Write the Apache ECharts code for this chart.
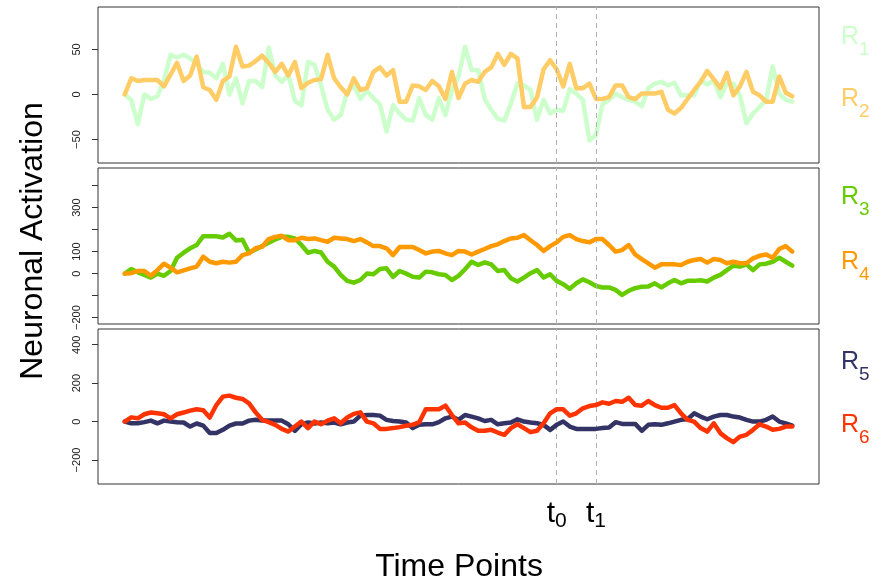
<!DOCTYPE html>
<html><head><meta charset="utf-8">
<script src="https://cdn.jsdelivr.net/npm/echarts@6/dist/echarts.min.js"></script>
<style>html,body{margin:0;padding:0;background:#fff}#c{width:883px;height:586px}</style>
</head><body><div id="c"></div>
<script>
// ---- data ----
const R1 = [0,-6,-33,0,-5,-2,16,44,41,44,40,34,25,24,18,34,0,18,-10,15,15,8,52,21,14,22,-7,-12,36,33,10,-17,-28,-23,3,10,-5,4,-4,-11,-41,-12,-21,-28,-29,-4,-23,-28,-4,-23,5,20,53,27,27,-5,-17,-27,-29,-10,12,10,5,-28,-6,-21,-17,-18,6,1,-6,-51,-45,-11,-6,1,-3,-6,-8,-13,7,12,14,10,13,-1,-1,-1,16,11,16,-3,12,12,-1,-32,-21,-14,-6,31,1,-6,-8];
const R2 = [0,18,15,16,16,16,9,22,35,15,21,42,8,5,-6,15,20,53,31,32,37,43,35,25,34,21,36,7,13,16,17,44,18,8,0,18,5,7,25,30,21,27,-8,-8,10,9,5,15,9,-5,25,-4,12,16,14,25,30,45,33,45,40,-14,-14,-3,28,38,28,9,34,7,7,12,-5,-5,-3,10,10,-3,-5,1,1,1,3,-17,-21,-15,-5,5,14,26,17,7,24,-1,9,25,3,-1,-8,-8,20,2,-2];
const R3 = [0,21,6,-6,-18,0,-10,12,72,95,115,130,170,170,170,164,181,151,154,96,110,125,140,155,167,167,160,130,95,103,96,54,32,-6,-33,-41,-29,0,-3,21,24,-15,12,0,-14,-18,9,6,-3,-6,-29,-10,20,54,39,51,42,12,16,-21,-36,-18,2,16,-18,-3,-33,-48,-69,-44,-26,-39,-56,-63,-63,-74,-97,-78,-66,-60,-59,-44,-63,-44,-29,-44,-33,-33,-30,-36,-18,-6,16,36,32,42,16,42,45,54,72,54,36];
const R4 = [0,2,12,12,-10,16,45,27,6,15,24,32,77,54,47,54,50,54,84,92,115,122,157,167,172,152,152,163,157,160,152,145,163,160,157,148,157,142,125,125,115,84,121,121,121,107,92,100,103,92,84,103,100,87,100,112,125,133,148,160,163,175,152,130,103,125,142,167,175,157,148,142,157,157,130,100,107,130,87,66,47,27,42,42,42,39,54,62,66,50,66,62,47,54,47,47,69,81,87,72,112,125,100];
const R5 = [0,-9,-9,-3,5,-9,5,0,-3,-5,-26,-10,-21,-60,-60,-43,-21,-10,-10,5,9,5,5,5,5,-14,-48,-14,-5,-10,-5,-9,-5,-14,-5,0,31,34,34,31,9,3,0,-5,-34,-17,-14,-14,-3,17,26,9,34,26,17,3,9,-14,-9,-5,12,0,-5,-9,-17,-43,-17,0,-26,-38,-38,-38,-38,-34,-31,-3,-12,-12,-12,-48,-17,-14,-17,-9,0,9,12,43,26,12,26,34,34,26,21,9,0,0,9,26,0,-9,-21];
const R6 = [0,22,17,38,47,43,38,17,38,47,57,64,59,21,86,130,135,124,118,95,48,9,-3,-17,-38,-52,-26,0,-34,0,-14,5,17,-9,21,40,48,0,-9,-38,-38,-34,-29,-22,-17,-3,64,64,64,83,34,-9,-5,-30,-48,-48,-43,-57,-69,-34,-14,-34,-55,-48,-9,43,64,64,31,43,69,81,86,100,93,107,103,124,86,83,107,86,72,72,86,43,9,0,-34,-52,-9,-60,-86,-107,-78,-69,-43,-14,-26,-43,-38,-26,-26];
const seriesNames = ['R1','R2','R3','R4','R5','R6'];
const seriesSubs = ['1','2','3','4','5','6'];
const markerTimes = [66, 72];
const markerSubs = ['0', '1'];
const panel1Ticks = [-50, 0, 50];
const panel1Labels = [-50, 0, 50];
const panel2Ticks = [-200, -100, 0, 100, 200, 300, 400];
const panel2Labels = [-200, 0, 100, 300];
const panel3Ticks = [-200, 0, 200, 400];
const panel3Labels = [-200, 0, 200, 400];

// ---- styling ----
const FONT = 'Liberation Sans, Arial, Helvetica, sans-serif';
const COLORS = ['#ccffcc', '#ffcc66', '#66cc00', '#ff9900', '#333366', '#ff3300'];
const LW = 4.5;
const timePoints = R1.map((_, i) => i);
const pairs = arr => arr.map((v, i) => [timePoints[i], v]);

const grids = [
  {left: 98, width: 721, top: 7, height: 156},
  {left: 98, width: 721, top: 168, height: 156},
  {left: 98, width: 721, top: 329, height: 155}
].map(g => Object.assign(g, {show: true, borderColor: '#333', borderWidth: 1, backgroundColor: 'transparent', containLabel: false}));

const yRanges = [[-76, 97], [-229, 480], [-325, 482]];
const yTicks = [panel1Ticks, panel2Ticks, panel3Ticks];
const yLabels = [panel1Labels, panel2Labels, panel3Labels];
const minus = v => String(v).replace('-', '\u2212');

const xAxes = [0, 1, 2].map(i => ({
  gridIndex: i, type: 'value', min: -4.08, max: 106.08,
  axisLine: {show: false, onZero: false}, axisTick: {show: false}, splitLine: {show: false},
  axisLabel: i === 2 ? {
    show: true, customValues: markerTimes, margin: 15,
    formatter: v => '{t|t}{s|' + markerSubs[markerTimes.indexOf(v)] + '}',
    rich: {
      t: {fontSize: 30, fontFamily: FONT, color: '#000', verticalAlign: 'bottom', padding: [0, 0, 3, 0]},
      s: {fontSize: 21, fontFamily: FONT, color: '#000', verticalAlign: 'bottom'}
    }
  } : {show: false}
}));

const yAxes = [0, 1, 2].map(i => ({
  gridIndex: i, type: 'value', min: yRanges[i][0], max: yRanges[i][1],
  axisLine: {show: false, onZero: false}, splitLine: {show: false},
  axisTick: {show: true, customValues: yTicks[i], length: 6, lineStyle: {color: '#333', width: 1}},
  axisLabel: {show: true, customValues: yLabels[i], rotate: 90, margin: 16,
    fontSize: 11, fontFamily: FONT, color: '#222', formatter: v => minus(v)}
}));

const data = [R1, R2, R3, R4, R5, R6];
const series = data.map((arr, j) => {
  const g = Math.floor(j / 2);
  const s = {
    name: seriesNames[j], type: 'line', xAxisIndex: g, yAxisIndex: g,
    data: pairs(arr), showSymbol: false, symbol: 'none', silent: true, animation: false,
    lineStyle: {color: COLORS[j], width: LW, cap: 'round', join: 'round'}, z: 2 + j
  };
  if (j % 2 === 0) {
    s.markLine = {
      silent: true, symbol: ['none', 'none'], animation: false, label: {show: false},
      lineStyle: {color: '#b0b0b0', width: 1, type: [5, 4]},
      data: markerTimes.map(t => ({xAxis: t}))
    };
  }
  return s;
});

const labelY = [49, 111, 209, 274, 374, 437];
const graphics = data.map((_, j) => ({
  type: 'text', x: 841, y: labelY[j] + 10, silent: true,
  style: {
    text: '{r|R}{s|' + seriesSubs[j] + '}', align: 'left', verticalAlign: 'bottom',
    rich: {
      r: {fontSize: 25, fontFamily: FONT, fill: COLORS[j], verticalAlign: 'bottom', padding: [0, 0, 9, 0]},
      s: {fontSize: 19, fontFamily: FONT, fill: COLORS[j], verticalAlign: 'bottom'}
    }
  }
}));
graphics.push({
  type: 'text', x: 33, y: 241, rotation: Math.PI / 2, silent: true,
  style: {text: 'Neuronal Activation', fontSize: 32, fontFamily: FONT, fill: '#000', align: 'center', verticalAlign: 'middle'}
});
graphics.push({
  type: 'text', x: 459, y: 567, silent: true,
  style: {text: 'Time Points', fontSize: 32, fontFamily: FONT, fill: '#000', align: 'center', verticalAlign: 'middle'}
});

const chart = echarts.init(document.getElementById('c'), null, {renderer: 'canvas'});
chart.setOption({
  animation: false,
  backgroundColor: '#fff',
  grid: grids, xAxis: xAxes, yAxis: yAxes, series: series, graphic: graphics
});
</script></body></html>
